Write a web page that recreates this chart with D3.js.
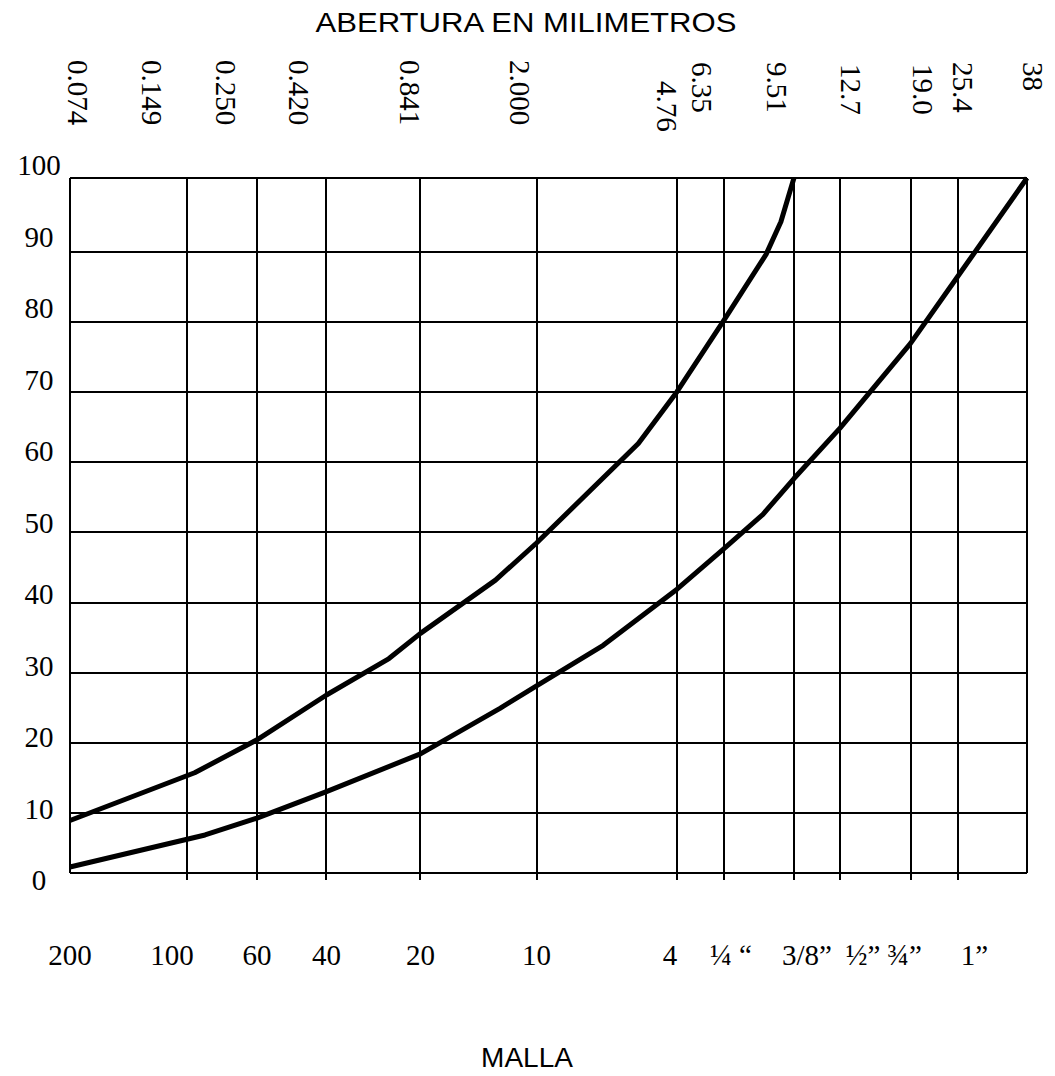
<!DOCTYPE html>
<html>
<head>
<meta charset="utf-8">
<script src="https://cdn.jsdelivr.net/npm/d3@7"></script>
<style>
  body { margin: 0; background: #fff; }
  text { fill: #000; }
</style>
</head>
<body>
<svg width="1055" height="1076"></svg>
<script>
// sieve openings (mm) and their names
const sieveMm = [0.074, 0.149, 0.250, 0.420, 0.841, 2.000, 4.76, 6.35, 9.51, 12.7, 19.0, 25.4, 38];
const mmLabels = ["0.074", "0.149", "0.250", "0.420", "0.841", "2.000", "4.76", "6.35", "9.51", "12.7", "19.0", "25.4", "38"];
const mallaLabels = ["200", "100", "60", "40", "20", "10", "4", "¼ “", "3/8”", "½”", "¾”", "1”", ""];
const percentTicks = [0, 10, 20, 30, 40, 50, 60, 70, 80, 90, 100];

// upper and lower limit curves (opening in mm, % passing)
const upperMm = [0.074, 0.16, 0.250, 0.420, 0.70, 0.841, 1.59, 2.000, 4.0, 4.76, 6.35, 8.25, 8.92, 9.24, 9.51];
const upperPct = [8.7, 15.7, 20.4, 26.8, 32.0, 35.6, 43.2, 48.5, 62.7, 70.1, 80.3, 89.7, 94.1, 97.3, 100];
const lowerMm = [0.074, 0.175, 0.250, 0.420, 0.841, 1.635, 2.000, 3.31, 4.76, 6.35, 8.11, 9.51, 12.7, 19.0, 25.4, 38];
const lowerPct = [1.0, 6.3, 9.1, 13.0, 18.4, 24.9, 28.1, 33.9, 41.9, 47.7, 52.6, 57.7, 64.9, 77.0, 86.5, 100];

// layout of the hand drawn grid
const margin = { top: 178, left: 70 };
const width = 957;
const height = 695;
const sieveSpacing = [0, 0.1223, 0.1954, 0.2680, 0.3662, 0.4875, 0.6343, 0.6834, 0.7565, 0.8046, 0.8783, 0.9274, 1];
const topNudge = [-2, -45, -41, -37, -20, -27, -20, -32, -27, 1, 2, -5, -4];
const topDrop = [0, 0, 0, 0, 0, 0, 21, 2, 2, 4, 4, 2, 2];
const bottomNudge = [0, -15, 0, 0, 0, 0, -7, 7, 13, 23, -6, 17, 0];

function drawChart() {
  const svg = d3.select("svg");
  const serif = "'Liberation Serif', 'Times New Roman', serif";
  const sans = "'Liberation Sans', Arial, sans-serif";

  const chart = svg.append("g")
    .attr("transform", `translate(${margin.left}, ${margin.top})`);

  // x: each sieve has its own place on the sheet
  const x = d3.scaleLinear()
    .domain(sieveMm)
    .range(sieveSpacing.map(f => f * width));

  // y: grid rows are not quite even on the sheet
  const y = d3.scaleLinear()
    .domain([0, 10, 90, 100])
    .range([height, height * 0.9132, height * 0.1069, 0]);

  // y labels sit on an even ladder of their own
  const yLabel = d3.scaleLinear()
    .domain([0, 100])
    .range([height + 17, -3]);

  // horizontal grid
  chart.selectAll(".hgrid")
    .data(percentTicks)
    .enter()
    .append("line")
    .attr("class", "hgrid")
    .attr("x1", 0)
    .attr("x2", width)
    .attr("y1", d => Math.round(y(d)))
    .attr("y2", d => Math.round(y(d)))
    .attr("stroke", "#000")
    .attr("stroke-width", 2)
    .attr("shape-rendering", "crispEdges");

  // vertical grid, inner lines poke a bit below the base
  chart.selectAll(".vgrid")
    .data(sieveMm)
    .enter()
    .append("line")
    .attr("class", "vgrid")
    .attr("x1", d => Math.round(x(d)))
    .attr("x2", d => Math.round(x(d)))
    .attr("y1", 0)
    .attr("y2", (d, i) => (i == 0 || i == sieveMm.length - 1) ? height : height + 7)
    .attr("stroke", "#000")
    .attr("stroke-width", 2)
    .attr("shape-rendering", "crispEdges");

  // curves
  const line = d3.line()
    .x(d => x(d[0]))
    .y(d => y(d[1]));

  const curves = [
    d3.zip(upperMm, upperPct),
    d3.zip(lowerMm, lowerPct)
  ];

  chart.selectAll(".curve")
    .data(curves)
    .enter()
    .append("path")
    .attr("class", "curve")
    .attr("d", line)
    .attr("fill", "none")
    .attr("stroke", "#000")
    .attr("stroke-width", 5)
    .attr("stroke-linejoin", "round");

  // percent labels
  chart.selectAll(".ylab")
    .data(percentTicks)
    .enter()
    .append("text")
    .attr("class", "ylab")
    .attr("x", -31)
    .attr("y", d => yLabel(d))
    .attr("text-anchor", "middle")
    .style("font-family", serif)
    .style("font-size", "29px")
    .text(d => d);

  // openings in mm, turned on their side
  chart.selectAll(".toplab")
    .data(mmLabels)
    .enter()
    .append("text")
    .attr("class", "toplab")
    .attr("transform", (d, i) => `translate(${x(sieveMm[i]) + topNudge[i]}, ${60 - margin.top + topDrop[i]}) rotate(90)`)
    .attr("text-anchor", "start")
    .style("font-family", serif)
    .style("font-size", "29px")
    .text(d => d);

  // sieve names under the grid
  chart.selectAll(".botlab")
    .data(mallaLabels)
    .enter()
    .append("text")
    .attr("class", "botlab")
    .attr("x", (d, i) => x(sieveMm[i]) + bottomNudge[i])
    .attr("y", 965 - margin.top)
    .attr("text-anchor", "middle")
    .style("font-family", serif)
    .style("font-size", "29px")
    .text(d => d);

  // titles
  svg.append("text")
    .attr("x", 526)
    .attr("y", 32)
    .attr("text-anchor", "middle")
    .attr("textLength", 421)
    .attr("lengthAdjust", "spacingAndGlyphs")
    .style("font-family", sans)
    .style("font-size", "28px")
    .text("ABERTURA EN MILIMETROS");

  svg.append("text")
    .attr("x", 527)
    .attr("y", 1067)
    .attr("text-anchor", "middle")
    .style("font-family", sans)
    .style("font-size", "28px")
    .text("MALLA");
}

drawChart();
</script>
</body>
</html>
